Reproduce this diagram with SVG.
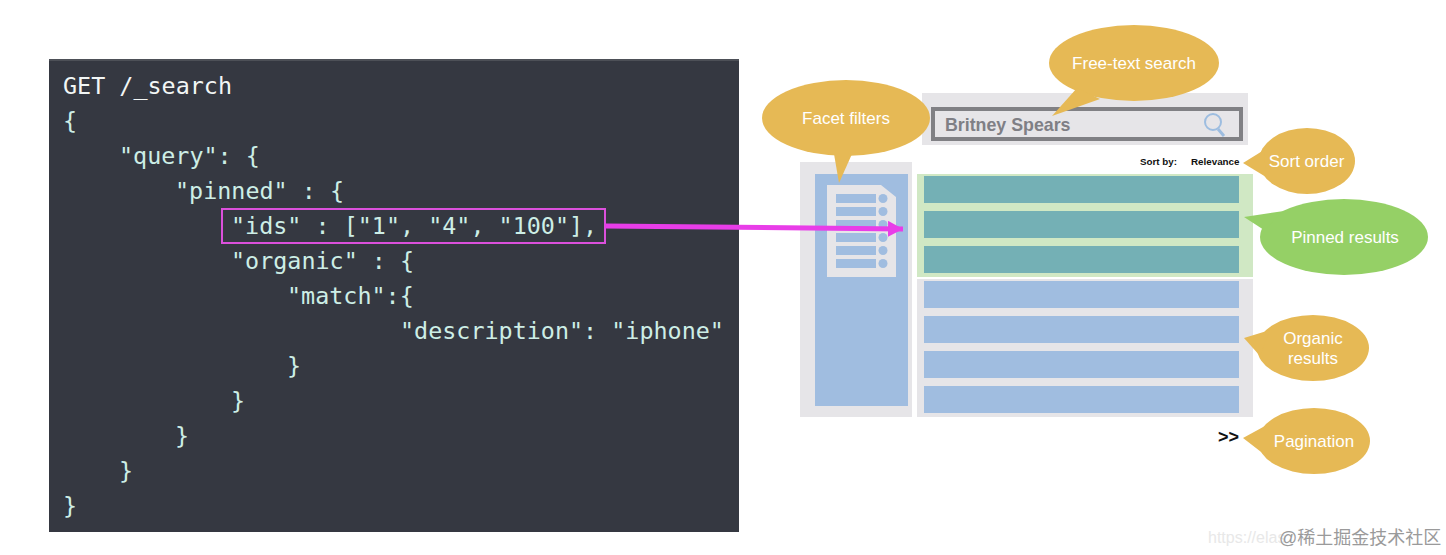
<svg xmlns="http://www.w3.org/2000/svg" width="1446" height="555" viewBox="0 0 1446 555">
<style>
.code{font-family:"DejaVu Sans Mono","Liberation Mono",monospace;font-size:23.4px;fill:#cdeee6}
.lbl{font-family:"Liberation Sans",Arial,sans-serif;font-size:17px;fill:#fff;text-anchor:middle}
.sm{font-family:"Liberation Sans",Arial,sans-serif;font-size:9.8px;font-weight:bold;fill:#111}
.y{fill:#e6b955}.g{fill:#95d066}.t{fill:#74b0b5}.b{fill:#a0bde0}.p{fill:#e6e5e8}
</style>
<defs><marker id="ah" markerUnits="userSpaceOnUse" markerWidth="16" markerHeight="16" refX="15" refY="8" orient="auto"><path d="M0 0L15 8L0 16Z" fill="#e83de8"/></marker></defs>
<rect width="1446" height="555" fill="#fff"/>
<g id="code-panel">
<rect x="49" y="59" width="690" height="473" fill="#353841"/>
<rect x="49" y="59" width="690" height="2" fill="#4d5057"/>
<text class="code" x="63" y="94" style="fill:#f2f6f5">GET /_search</text>
<text class="code" x="63" y="129">{</text>
<text class="code" x="119" y="164">"query": {</text>
<text class="code" x="175" y="199">"pinned" : {</text>
<text class="code" x="231" y="234">"ids" : ["1", "4", "100"],</text>
<text class="code" x="231" y="269">"organic" : {</text>
<text class="code" x="287" y="304">"match":{</text>
<text class="code" x="400" y="339">"description": "iphone"</text>
<text class="code" x="287" y="374">}</text>
<text class="code" x="231" y="409">}</text>
<text class="code" x="175" y="444">}</text>
<text class="code" x="119" y="479">}</text>
<text class="code" x="63" y="514">}</text>
<rect x="222" y="209" width="383" height="34" fill="none" stroke="#dc50dc" stroke-width="2"/>
</g>
<g id="search-bar">
<rect class="p" x="922" y="93" width="326" height="52"/>
<rect x="933" y="109" width="308" height="30" fill="#e6e5e8" stroke="#808084" stroke-width="4"/>
<text x="945" y="131" font-family="Liberation Sans,Arial,sans-serif" font-size="17.8" font-weight="bold" fill="#7f7f85">Britney Spears</text>
<circle cx="1213" cy="122" r="8" fill="none" stroke="#9dbde0" stroke-width="2"/>
<path d="M1218 129L1224 136" stroke="#9dbde0" stroke-width="3"/>
</g>
<g id="facet-panel">
<rect class="p" x="800" y="162" width="112" height="255"/>
<rect class="b" x="815" y="174" width="93" height="232"/>
<path class="p" d="M827 185H881L896 197V277H827Z"/>
<g class="b">
<rect x="836" y="194" width="40" height="9"/><circle cx="883" cy="198.5" r="4.5"/>
<rect x="836" y="207" width="40" height="9"/><circle cx="883" cy="211.5" r="4.5"/>
<rect x="836" y="220" width="40" height="9"/><circle cx="883" cy="224.5" r="4.5"/>
<rect x="836" y="233" width="40" height="9"/><circle cx="883" cy="237.5" r="4.5"/>
<rect x="836" y="246" width="40" height="9"/><circle cx="883" cy="250.5" r="4.5"/>
<rect x="836" y="259" width="40" height="9"/><circle cx="883" cy="263.5" r="4.5"/>
</g>
</g>
<g id="pinned-panel">
<rect x="917" y="174" width="336" height="103" fill="#d0e8c4"/>
<rect class="t" x="924" y="176" width="315" height="27"/>
<rect class="t" x="924" y="211" width="315" height="27"/>
<rect class="t" x="924" y="246" width="315" height="27"/>
</g>
<g id="organic-panel">
<rect class="p" x="917" y="279" width="336" height="138"/>
<rect class="b" x="924" y="281" width="315" height="27"/>
<rect class="b" x="924" y="316" width="315" height="27"/>
<rect class="b" x="924" y="351" width="315" height="27"/>
<rect class="b" x="924" y="386" width="315" height="27"/>
</g>
<g id="sort-by">
<text class="sm" x="1140" y="165">Sort by:</text>
<text class="sm" x="1191" y="165">Relevance</text>
</g>
<text id="next-page" x="1218" y="443" font-family="Liberation Sans,Arial,sans-serif" font-size="18" font-weight="bold" fill="#111">&gt;&gt;</text>
<g id="facet-filters">
<ellipse class="y" cx="846" cy="118" rx="84" ry="38"/>
<path class="y" d="M834 154L839 183L852 154Z"/>
<text class="lbl" x="846" y="124">Facet filters</text>
</g>
<g id="free-text-search">
<ellipse class="y" cx="1134" cy="63" rx="85" ry="38"/>
<path class="y" d="M1077 88L1052 116L1100 99Z"/>
<text class="lbl" x="1134" y="69">Free-text search</text>
</g>
<g id="sort-order">
<ellipse class="y" cx="1307" cy="161" rx="48" ry="33"/>
<path class="y" d="M1264 150L1243 163L1266 177Z"/>
<text class="lbl" x="1306.5" y="167">Sort order</text>
</g>
<g id="pinned-results">
<ellipse class="g" cx="1344" cy="237" rx="84" ry="38"/>
<path class="g" d="M1284 211L1244 217L1264 230Z"/>
<text class="lbl" x="1345" y="243">Pinned results</text>
</g>
<g id="organic-results">
<ellipse class="y" cx="1313" cy="348" rx="56" ry="33"/>
<path class="y" d="M1270 330L1244 338L1260 356Z"/>
<text class="lbl" x="1313" y="344">Organic</text>
<text class="lbl" x="1313" y="364">results</text>
</g>
<g id="pagination">
<ellipse class="y" cx="1314" cy="441" rx="56" ry="33"/>
<path class="y" d="M1265 426L1243 438L1265 455Z"/>
<text class="lbl" x="1314" y="447">Pagination</text>
</g>
<g id="connectors">
<path d="M605 226L903 229" fill="none" stroke="#e83de8" stroke-width="5" marker-end="url(#ah)"/>
</g>
<g id="watermark">
<text x="1208" y="543" font-family="Liberation Sans,Arial,sans-serif" font-size="16" fill="#e8e8e8">https://elas</text>
<text x="1279" y="544" font-family="Liberation Sans,'Noto Sans CJK SC',sans-serif" font-size="18" fill="#9a9a9a">@稀土掘金技术社区</text>
</g>
</svg>
